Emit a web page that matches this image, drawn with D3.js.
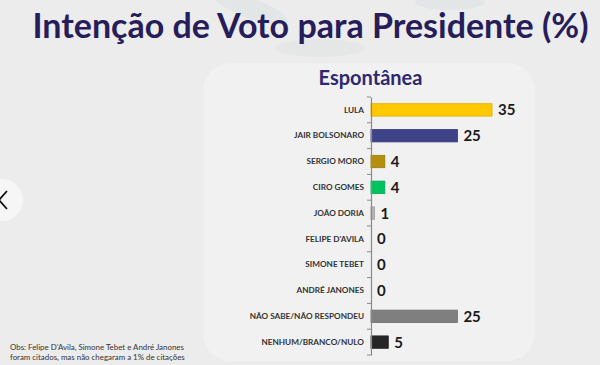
<!DOCTYPE html>
<html><head><meta charset="utf-8">
<script src="https://cdn.jsdelivr.net/npm/d3@7"></script>
<style>html,body{margin:0;padding:0;background:#ececec;}svg{display:block;}</style>
</head><body>
<svg id="c" width="600" height="365"></svg>
<script>
const categories = ["LULA","JAIR BOLSONARO","SERGIO MORO","CIRO GOMES","JOÃO DORIA","FELIPE D'AVILA","SIMONE TEBET","ANDRÉ JANONES","NÃO SABE/NÃO RESPONDEU","NENHUM/BRANCO/NULO"];
const values = [35,25,4,4,1,0,0,0,25,5];
const colors = ["#ffc800","#3e4388","#b48e0c","#00c25e","#b4b4b4","#b4b4b4","#b4b4b4","#b4b4b4","#7f7f7f","#262626"];
const title = "Intenção de Voto para Presidente (%)";
const subtitle = "Espontânea";
const notes = ["Obs: Felipe D’Avila, Simone Tebet e André Janones","foram citados, mas não chegaram a 1% de citações"];

const svg = d3.select("#c");
const font = "Lato, 'Open Sans', sans-serif";

// faint decorative shapes
const deco = svg.append("g").attr("fill","#e2e6e6");
deco.append("ellipse").attr("cx",250).attr("cy",8).attr("rx",40).attr("ry",10).attr("transform","rotate(20 250 8)");
deco.append("ellipse").attr("cx",320).attr("cy",48).attr("rx",45).attr("ry",9).attr("opacity",0.7);
deco.append("ellipse").attr("cx",450).attr("cy",2).attr("rx",35).attr("ry",8);

// panel
svg.append("rect").attr("x",203).attr("y",63).attr("width",332).attr("height",298).attr("rx",28).attr("fill","#f1f1f1");

// left nav button
svg.append("circle").attr("cx",2).attr("cy",200).attr("r",21).attr("fill","#f6f6f6");
svg.append("path").attr("d","M7,191 L-1,200 L7,209").attr("fill","none").attr("stroke","#111").attr("stroke-width",1.8);

svg.append("text").attr("x",310.5).attr("y",38).attr("text-anchor","middle")
  .attr("font-family",font).attr("font-weight",700).attr("font-size",34).attr("fill","#261d5a").text(title);
svg.append("text").attr("x",370.5).attr("y",85).attr("text-anchor","middle")
  .attr("font-family",font).attr("font-weight",700).attr("font-size",20).attr("fill","#2d2870").text(subtitle);

const x = d3.scaleLinear().domain([0,35]).range([371,492]);
const y = d3.scaleBand().domain(categories).range([97,355]).paddingInner(0.52).paddingOuter(0.26);

const g = svg.append("g");
g.selectAll("rect.bar").data(categories).join("rect").attr("class","bar")
  .attr("x",x(0)).attr("y",d=>y(d)).attr("height",y.bandwidth())
  .attr("width",(d,i)=>x(values[i])-x(0))
  .attr("fill",(d,i)=>colors[i])
  .attr("stroke",(d,i)=>values[i]>0?d3.color(colors[i]).darker(0.4):"none").attr("stroke-width",0.8);

const axis = d3.axisLeft(y).tickSize(0).tickPadding(7);
const ax = g.append("g").attr("transform",`translate(${x(0)},0)`).call(axis);
ax.select(".domain").attr("stroke","#8a8a8a").attr("stroke-width",1.2);
ax.selectAll("text").attr("font-family",font).attr("font-weight",700).attr("font-size",8.2).attr("fill","#333");
const step = y.step();
const tickYs = categories.map(c=>y(c)-(step-y.bandwidth())/2).concat([y(categories[categories.length-1])+y.bandwidth()+(step-y.bandwidth())/2]);
g.selectAll("line.sep").data(tickYs).join("line").attr("class","sep")
  .attr("x1",x(0)-4).attr("x2",x(0)).attr("y1",d=>d).attr("y2",d=>d).attr("stroke","#8a8a8a").attr("stroke-width",1);

g.selectAll("text.val").data(categories).join("text").attr("class","val")
  .attr("x",(d,i)=>x(values[i])+6).attr("y",d=>y(d)+y.bandwidth()/2).attr("dy","0.36em")
  .attr("font-family",font).attr("font-weight",700).attr("font-size",15).attr("fill","#1a1a1a")
  .text((d,i)=>values[i]);

svg.append("g").selectAll("text").data(notes).join("text")
  .attr("x",10).attr("y",(d,i)=>350+i*10).attr("font-family",font).attr("font-size",7.9).attr("fill","#333").text(d=>d);
</script>
</body></html>
